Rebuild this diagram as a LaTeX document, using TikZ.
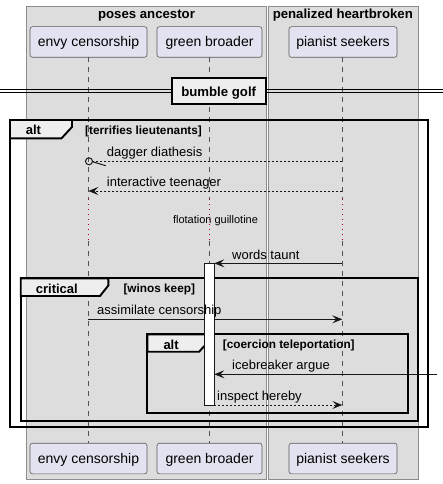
\documentclass[tikz,border=0pt]{standalone}
\usepackage{fontspec}
\setmainfont{Liberation Sans}
\usetikzlibrary{arrows.meta}
\definecolor{boxbg}{HTML}{DDDDDD}
\definecolor{boxline}{HTML}{8C8C8C}
\definecolor{partbg}{HTML}{E2E2F0}
\definecolor{partline}{HTML}{5A5A5A}
\definecolor{ink}{HTML}{181818}
\definecolor{tabbg}{HTML}{EEEEEE}
\definecolor{delayc}{HTML}{A80036}
\begin{document}
\begin{tikzpicture}[x=1pt,y=-1pt,
  grpbox/.style={fill=boxbg,draw=boxline,line width=0.8pt},
  grptitle/.style={anchor=base,inner sep=0pt,font=\bfseries\fontsize{13.2}{15}\selectfont},
  part/.style={rectangle,rounded corners=2.5pt,fill=partbg,draw=partline,line width=0.6pt,
    minimum height=30.6pt,inner sep=0pt,text height=13pt,text depth=3pt,
    font=\fontsize{14}{16}\selectfont},
  life/.style={draw=ink!75,line width=0.6pt,dash pattern=on 5pt off 5pt},
  delayline/.style={draw=delayc,line width=1pt,dash pattern=on 1pt off 4pt},
  frameline/.style={draw=black,line width=1.9pt},
  tabshape/.style={fill=tabbg,draw=black,line width=1.9pt,line join=miter},
  framelabel/.style={anchor=base west,inner sep=0pt,font=\bfseries\fontsize{13}{15}\selectfont},
  guardlabel/.style={anchor=base west,inner sep=0pt,font=\bfseries\fontsize{11.8}{14}\selectfont},
  msgline/.style={draw=ink,line width=1pt},
  dashmsg/.style={msgline,dash pattern=on 2pt off 2pt},
  tipped/.style={-{Stealth[length=10pt,width=8pt,inset=4pt]}},
  msgtext/.style={anchor=base west,inner sep=0pt,font=\fontsize{13}{15}\selectfont},
  divbox/.style={fill=tabbg,draw=black,line width=2pt,minimum width=94pt,minimum height=25.7pt,
    inner sep=0pt,text height=12pt,text depth=2.4pt,font=\bfseries\fontsize{13.2}{15}\selectfont},
  actbox/.style={fill=white,draw=ink,line width=1pt}
]
\useasboundingbox (0,0) rectangle (443,484);
\fill[white] (0,0) rectangle (443,484);

% group boxes
\draw[grpbox] (26.7,6) rectangle (266.7,479.3);
\draw[grpbox] (268.3,6) rectangle (418.3,479.3);
\node[grptitle] (t1) at (146.5,18.5) {poses ancestor};
\node[grptitle] (t2) at (342.8,18.5) {penalized heartbroken};

% participants
\node[part,minimum width=117pt] (envyT) at (88.5,42) {envy censorship};
\node[part,minimum width=105pt] (greenT) at (209.5,42) {green broader};
\node[part,minimum width=108pt] (pianT) at (343,42) {pianist seekers};
\node[part,minimum width=117pt] (envyB) at (88.5,458.5) {envy censorship};
\node[part,minimum width=105pt] (greenB) at (209.5,458.5) {green broader};
\node[part,minimum width=108pt] (pianB) at (343,458.5) {pianist seekers};

% lifeline coordinates
\coordinate (e0) at (88.3,57.3);  \coordinate (e1) at (88.3,199); \coordinate (e2) at (88.3,241); \coordinate (e3) at (88.3,443);
\coordinate (g0) at (209.3,57.3); \coordinate (g1) at (209.3,199); \coordinate (g2) at (209.3,241); \coordinate (g3) at (209.3,443);
\coordinate (p0) at (342.3,57.3); \coordinate (p1) at (342.3,199); \coordinate (p2) at (342.3,241); \coordinate (p3) at (342.3,443);
\foreach \l in {e,g,p}{
  \draw[life] (\l0) -- (\l1);
  \draw[delayline] (\l1) -- (\l2);
  \draw[life] (\l2) -- (\l3);
}

% divider
\coordinate (dl) at (0,89.5); \coordinate (dr) at (443,89.5);
\coordinate (dl2) at (0,93); \coordinate (dr2) at (443,93);
\draw[draw=black,line width=1pt] (dl) -- (dr);
\draw[draw=black,line width=1pt] (dl2) -- (dr2);
\node[divbox] (div) at (218.7,91.2) {bumble golf};

% frames
\draw[frameline] (10,120) rectangle (428,426.7);
\draw[tabshape] (10,120) -- (72,120) -- (72,127) -- (61.5,138.3) -- (10,138.3) -- cycle;
\draw[frameline] (20.7,278.3) rectangle (417.7,420.7);
\draw[tabshape] (20.7,278.3) -- (108.3,278.3) -- (108.3,285.5) -- (100,296) -- (20.7,296) -- cycle;
\draw[frameline] (147.3,334.3) rectangle (407.7,413.3);
\draw[tabshape] (147.3,334.3) -- (208.3,334.3) -- (208.3,342) -- (199,351.7) -- (147.3,351.7) -- cycle;

% message coordinates
\coordinate (m1p) at (342.3,161.3); \coordinate (m1e) at (92.5,161.3); \coordinate (m1c) at (89,161.3);
\coordinate (m1h0) at (92.7,161.8); \coordinate (m1h1) at (105.7,165.7);
\coordinate (m2p) at (342.3,191); \coordinate (m2e) at (88.3,191);
\coordinate (m3p) at (342.3,263.3); \coordinate (m3g) at (214.3,263.3);
\coordinate (m4e) at (88.3,319.3); \coordinate (m4p) at (342.3,319.3);
\coordinate (m5r) at (436.7,374.3); \coordinate (m5g) at (214.3,374.3);
\coordinate (m6g) at (214.3,405); \coordinate (m6p) at (342.3,405);

\draw[dashmsg] (m1p) -- (m1e);
\draw[msgline] (m1c) circle[radius=3.5pt];
\draw[msgline] (m1h0) -- (m1h1);
\draw[dashmsg,tipped] (m2p) -- (m2e);
\draw[msgline,tipped] (m3p) -- (m3g);
\draw[msgline,tipped] (m4e) -- (m4p);
\draw[msgline,tipped] (m5r) -- (m5g);
\draw[dashmsg,tipped] (m6g) -- (m6p);

% activation
\draw[actbox] (204.3,263.3) rectangle (214.3,405);

% frame labels
\node[framelabel] (alt1) at (25.7,135) {alt};
\node[guardlabel] (grd1) at (85,134) {[terrifies lieutenants]};
\node[framelabel] (crit) at (35.7,293) {critical};
\node[guardlabel] (grd2) at (123.3,292.5) {[winos keep]};
\node[framelabel] (alt2) at (163.3,349) {alt};
\node[guardlabel] (grd3) at (222.7,348.5) {[coercion teleportation]};

% message labels
\node[msgtext] (l1) at (106.7,156) {dagger diathesis};
\node[msgtext] (l2) at (106.7,186.5) {interactive teenager};
\node[anchor=base,inner sep=0pt,font=\fontsize{11}{13}\selectfont] (dly) at (215.5,223.5) {flotation guillotine};
\node[msgtext] (l3) at (232,259) {words taunt};
\node[msgtext] (l4) at (97,314.8) {assimilate censorship};
\node[msgtext] (l5) at (232,369.8) {icebreaker argue};
\node[msgtext] (l6) at (217,400.5) {inspect hereby};
\end{tikzpicture}
\end{document}
